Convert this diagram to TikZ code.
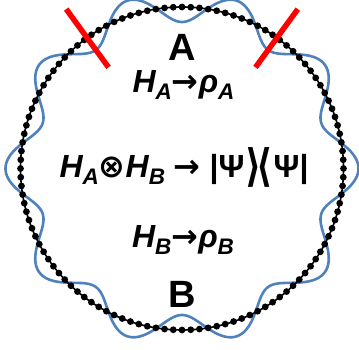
\documentclass[tikz,border=0pt]{standalone}
\usepackage{fontspec}
\usepackage{graphicx}
\setmainfont{Liberation Sans}
\newfontfamily\djv{DejaVu Sans}
\usetikzlibrary{calc}
\definecolor{wavecol}{RGB}{79,129,189}
\newcommand\mysub[1]{\raisebox{-6.5pt}{\fontsize{22.5}{23}\selectfont #1}}
\newcommand\myarr{{\upshape\djv\bfseries →}}
\newcommand\mybra[1]{\raisebox{-3.5pt}{\scalebox{1.1}[1.4]{\upshape\djv\bfseries #1}}}
\tikzset{
  wave/.style={draw=wavecol, line width=2.6pt},
  beadline/.style={draw=black, line width=1.6pt},
  bead/.style={fill=black},
  redbar/.style={draw=red, line width=5.5pt},
  biglbl/.style={inner sep=0pt, anchor=base, font=\fontsize{38}{40}\selectfont\bfseries},
  formula/.style={inner sep=0pt, anchor=base, font=\fontsize{32}{34}\selectfont\bfseries}
}
\begin{document}
\begin{tikzpicture}[x=1pt,y=1pt]
\useasboundingbox (0,0) rectangle (359,350);
\coordinate (c) at (182,181.5);
% wavy line
\draw[wave] plot[domain=0:360,samples=721] ({182+(161.5+15*cos(10*\x))*cos(\x)},{181.5+(161.5+15*cos(10*\x))*sin(\x)}) -- cycle;
% bead chain
\draw[beadline] (c) circle (161.5);
\foreach \i in {0,...,115} \fill[bead] (c) ++(\i*3.103448:161.5) circle (3.4);
% red cuts
\coordinate (r1a) at ($(c)+(126:125)$);
\coordinate (r1b) at ($(c)+(126:197)$);
\coordinate (r2a) at ($(c)+(54:125)$);
\coordinate (r2b) at ($(c)+(54:197)$);
\draw[redbar] (r1a) -- (r1b);
\draw[redbar] (r2a) -- (r2b);
% texts
\node[biglbl] (A) at (182,289) {A};
\node[formula] (fa) at (183.5,257) {\itshape H\mysub{A}\myarr ρ\mysub{A}};
\node[formula] (fab) at (184,172) {\itshape H\mysub{A}{\upshape\djv\bfseries ⊗}H\mysub{B} \myarr{} {\upshape |Ψ\kern1pt\mybra{⟩}\kern-5pt\mybra{⟨}\kern1pt Ψ|}};
\node[formula] (fb) at (183,102) {\itshape H\mysub{B}\myarr ρ\mysub{B}};
\node[biglbl] (B) at (182.5,42) {B};
\end{tikzpicture}
\end{document}
